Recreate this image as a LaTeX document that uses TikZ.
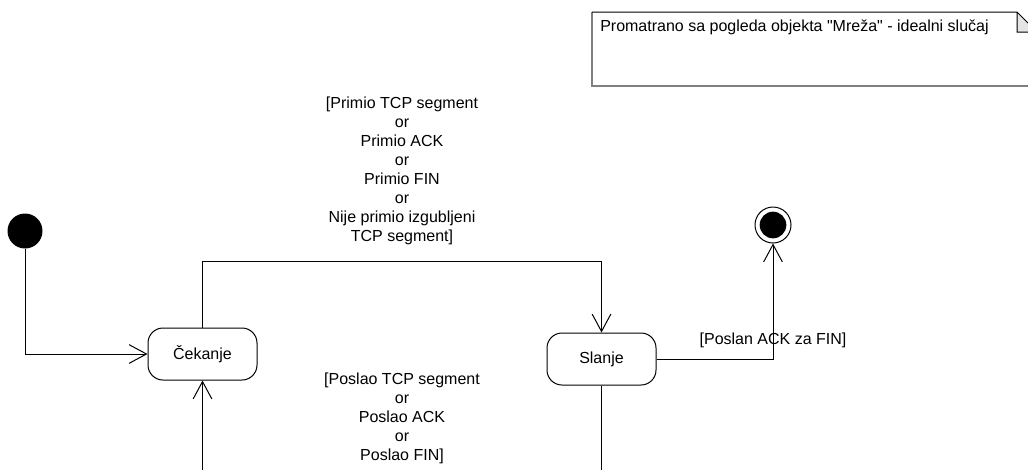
\documentclass[tikz,border=0pt]{standalone}
\usepackage{fontspec}
\setmainfont{Liberation Sans}
\usetikzlibrary{arrows.meta}
\tikzset{
	stanje/.style={draw, rounded corners=11.25pt, minimum width=81.75pt, minimum height=39pt, line width=0.75pt, font=\fontsize{12}{14.2}\selectfont},
	prijelaz/.style={draw, line width=0.75pt, -{Straight Barb[length=13pt,width=14pt]}},
	natpis/.style={align=center, inner sep=0pt, font=\fontsize{12}{14.2}\selectfont},
}

\begin{document}
\begin{tikzpicture}[x=0.75pt, y=-0.75pt]
		\clip (0,0) rectangle (1028,469);

		\fill[gray!20] (1017,12) -- (1037,32) -- (1017,32) -- cycle;
		\draw[gray, line width=1.5pt] (592,12) -- (592,86) -- (1040,86);
		\draw[line width=0.75pt] (592,12) -- (1017,12) -- (1037,32) (1017,12) -- (1017,32) -- (1040,32);
		\node[natpis, anchor=north west] (biljeska) at (600,20) {Promatrano sa pogleda objekta \textquotedbl Mreža\textquotedbl{} - idealni slučaj};

		\node[circle, fill, minimum size=26.25pt, inner sep=0pt] (pocetak) at (25,231) {};
		\node[stanje] (cekanje) at (202.5,354) {Čekanje};
		\node[stanje] (slanje) at (601.5,359) {Slanje};
		\node[circle, draw, line width=0.75pt, minimum size=27pt, inner sep=0pt, path picture={\fill (path picture bounding box.center) circle (10pt);}] (kraj) at (773,225) {};

		\draw[prijelaz] (pocetak) |- (cekanje);
		\draw[prijelaz] (cekanje.north) -- ++(0,-66) -| (slanje.north);
		\draw[prijelaz] (slanje.east) -| (kraj.south);
		\draw[prijelaz] (slanje.south) -- ++(0,150) -| (cekanje.south);

		\node[natpis] (primio) at (402,171) {[Primio TCP segment\\or\\Primio ACK\\or\\Primio FIN\\or\\Nije primio izgubljeni\\TCP segment]};
		\node[natpis] (poslao) at (402,418) {[Poslao TCP segment\\or\\Poslao ACK\\or\\Poslao FIN]};
		\node[natpis] (poslan) at (773,340) {[Poslan ACK za FIN]};
	\end{tikzpicture}
\end{document}
